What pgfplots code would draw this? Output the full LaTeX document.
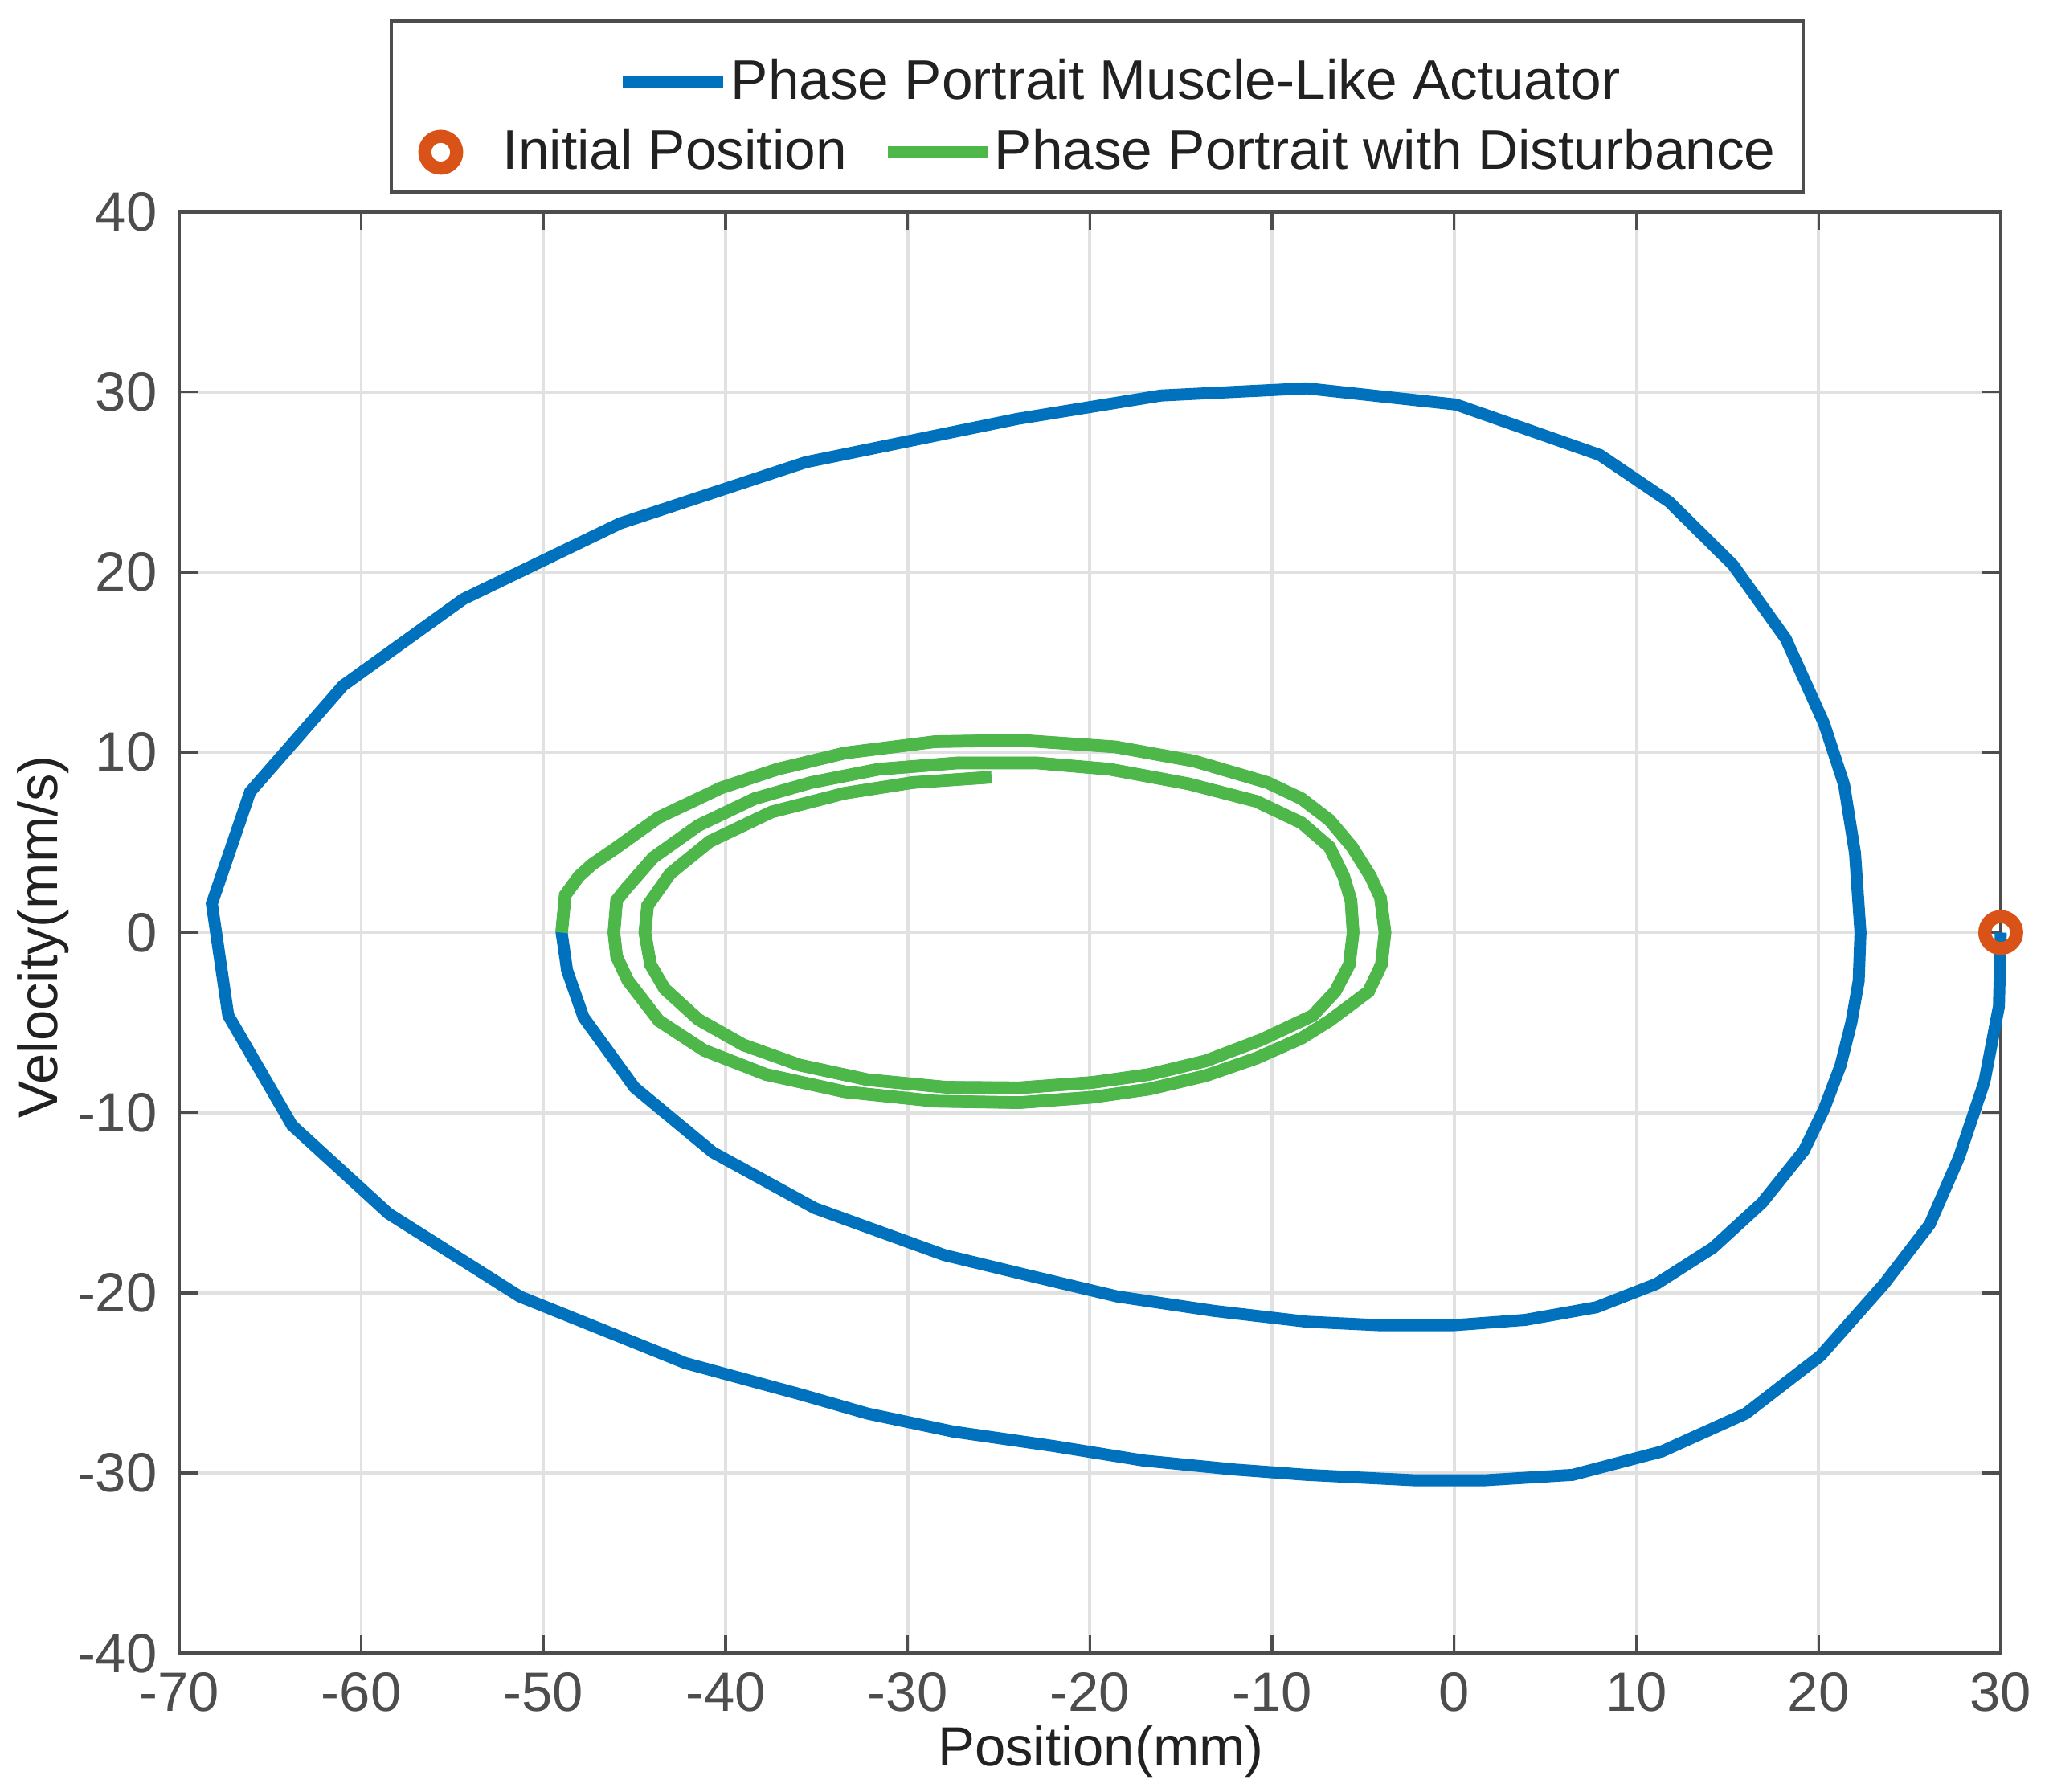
\documentclass[border=0pt]{standalone}
\usepackage{fontspec}
\setmainfont{Liberation Sans}
\usepackage{pgfplots}
\pgfplotsset{compat=1.18}
\definecolor{mblue}{RGB}{0,114,189}
\definecolor{morange}{RGB}{217,83,25}
\definecolor{mgreen}{RGB}{77,183,73}
\definecolor{axgray}{RGB}{77,77,77}
\definecolor{gridgray}{RGB}{225,225,225}
\definecolor{txt}{RGB}{33,33,33}
\begin{document}
\begin{tikzpicture}
\begin{axis}[
  scale only axis,
  width=418.2pt, height=330.9pt,
  xmin=-70, xmax=30, ymin=-40, ymax=40,
  xtick={-70,-60,...,30}, ytick={-40,-30,...,40},
  /pgf/number format/assume math mode=true,
  tick label style={font=\fontsize{12.7pt}{15pt}\selectfont, text=axgray},
  xticklabel style={yshift=-1pt},
  yticklabel style={xshift=-1.5pt},
  grid=major,
  grid style={line width=0.7pt, color=gridgray},
  axis line style={line width=0.75pt, color=axgray},
  every tick/.style={line width=0.6pt, color=axgray},
  major tick length=4.2pt,
  clip=false,
  xlabel={Position(mm)}, ylabel={Velocity(mm/s)},
  label style={font=\fontsize{12.7pt}{15pt}\selectfont, text=txt},
  xlabel style={at={(axis description cs:0.506,-0.068)}, anchor=center},
  ylabel style={at={(axis description cs:-0.0746,0.497)}, anchor=center, rotate=0},
  legend cell align=left,
  legend columns=2,
  legend style={at={(0.1155,1.0127)}, anchor=south west,
    draw=axgray, line width=0.75pt, fill=white,
    inner xsep=0pt, inner ysep=3.7pt,
    nodes={inner sep=0pt, text depth=0.15em, text=txt},
    font=\fontsize{12.8pt}{15pt}\selectfont,
    column sep=0pt, row sep=5.3pt},
]
% invisible frame to keep the reference proportions
\path (axis description cs:-0.0983,-0.0961) rectangle (axis description cs:1.0265,1.1469);

\addplot[mblue, line width=2.75pt,
  legend image code/.code={\path[draw=none,fill=none] (0pt,0pt) -- (25.65pt,0pt); \draw[overlay] (53.2pt,0pt) -- (76.3pt,0pt);}]
coordinates {
(30,0) (29.9,-4.1) (29.1,-8.3) (27.7,-12.5) (26.1,-16.2) (23.6,-19.5) (20.1,-23.5) (16.0,-26.7)
(11.4,-28.8) (6.5,-30.1) (1.7,-30.4) (-2.2,-30.4) (-8.1,-30.1) (-12.1,-29.8) (-17.1,-29.3)
(-22.0,-28.5) (-27.5,-27.7) (-32.2,-26.7) (-36.0,-25.6) (-42.2,-23.9) (-51.3,-20.2) (-58.5,-15.6)
(-63.8,-10.7) (-67.3,-4.6) (-68.2,1.6) (-66.1,7.8) (-61.0,13.7) (-54.4,18.5) (-45.8,22.7)
(-35.6,26.1) (-24.0,28.5) (-16.1,29.8) (-8.1,30.2) (0.1,29.3) (8.0,26.5) (11.8,23.9) (15.3,20.4)
(18.2,16.3) (20.3,11.6) (21.4,8.2) (22.0,4.4) (22.3,0) (22.2,-2.7) (21.8,-5.0) (21.2,-7.4)
(20.3,-9.8) (19.2,-12.1) (16.9,-15.0) (14.2,-17.5) (11.1,-19.5) (7.8,-20.8) (3.9,-21.5)
(-0.1,-21.8) (-4.0,-21.8) (-8.1,-21.6) (-13.2,-21.0) (-18.5,-20.2) (-23.5,-19.0) (-28.0,-17.9)
(-35.1,-15.3) (-40.7,-12.2) (-45.0,-8.6) (-47.8,-4.7) (-48.7,-2.1) (-49.0,0)
(-48.8,2.08) (-48.05,3.12) (-47.31,3.79) (-46.13,4.61) (-43.66,6.39) (-40.26,8.02) (-37.16,9.06)
(-33.45,9.96) (-28.5,10.59) (-23.86,10.67) (-18.6,10.3) (-14.27,9.51) (-10.25,8.32) (-8.39,7.43)
(-6.85,6.24) (-5.61,4.75) (-4.6,3.12) (-4.05,1.93) (-3.8,0) (-4.0,-1.78) (-4.7,-3.27)
(-6.85,-4.9) (-8.39,-5.87) (-10.87,-6.98) (-13.65,-7.95) (-16.74,-8.69) (-19.84,-9.14)
(-23.86,-9.44) (-28.5,-9.36) (-33.45,-8.84) (-37.78,-7.88) (-41.18,-6.54) (-43.66,-4.9)
(-45.36,-2.67) (-45.98,-1.34) (-46.13,0) (-45.98,1.78) (-45.51,2.38) (-43.97,4.16) (-41.49,5.94)
(-38.4,7.43) (-35.31,8.32) (-31.59,9.06) (-27.26,9.41) (-22.93,9.41) (-18.91,9.06) (-14.58,8.25)
(-10.87,7.28) (-8.39,6.09) (-6.85,4.75) (-6.07,3.12) (-5.67,1.78) (-5.55,0) (-5.76,-1.78)
(-6.53,-3.27) (-7.77,-4.61) (-10.56,-5.94) (-13.65,-7.13) (-16.74,-7.88) (-19.84,-8.32)
(-23.86,-8.62) (-27.88,-8.59) (-32.21,-8.17) (-35.92,-7.36) (-39.02,-6.24) (-41.49,-4.83)
(-43.35,-3.12) (-44.12,-1.78) (-44.43,0) (-44.28,1.49) (-43.04,3.27) (-40.87,5.05) (-37.47,6.69)
(-33.45,7.73) (-29.74,8.32) (-25.41,8.62)
};
\addlegendentry{\makebox[0pt][l]{\hspace*{51.9pt}Phase Portrait Muscle-Like Actuator}}

\addlegendimage{legend image code/.code={\path[draw=none,fill=none] (0pt,0pt) -- (0pt,10.4pt);}}
\addlegendentry{}

\addplot[only marks, mark=o, mark size=3.65pt, mark options={line width=3pt, draw=morange, fill=none},
  legend image code/.code={\path[draw=none,fill=none] (0pt,0pt) -- (25.65pt,0pt); \draw[mark=o] plot coordinates {(11.4pt,0pt)};}]
coordinates {(30,0)};
\addlegendentry{\makebox[79.2pt][l]{Initial Position}}

\addplot[mgreen, line width=2.9pt,
  legend image code/.code={\path[draw=none,fill=none] (0pt,0pt) -- (32.1pt,0pt); \draw (9.15pt,0pt) -- (32.25pt,0pt);}]
coordinates {
(-49.0,0) (-48.8,2.08) (-48.05,3.12) (-47.31,3.79) (-46.13,4.61) (-43.66,6.39) (-40.26,8.02)
(-37.16,9.06) (-33.45,9.96) (-28.5,10.59) (-23.86,10.67) (-18.6,10.3) (-14.27,9.51) (-10.25,8.32)
(-8.39,7.43) (-6.85,6.24) (-5.61,4.75) (-4.6,3.12) (-4.05,1.93) (-3.8,0) (-4.0,-1.78) (-4.7,-3.27)
(-6.85,-4.9) (-8.39,-5.87) (-10.87,-6.98) (-13.65,-7.95) (-16.74,-8.69) (-19.84,-9.14)
(-23.86,-9.44) (-28.5,-9.36) (-33.45,-8.84) (-37.78,-7.88) (-41.18,-6.54) (-43.66,-4.9)
(-45.36,-2.67) (-45.98,-1.34) (-46.13,0) (-45.98,1.78) (-45.51,2.38) (-43.97,4.16) (-41.49,5.94)
(-38.4,7.43) (-35.31,8.32) (-31.59,9.06) (-27.26,9.41) (-22.93,9.41) (-18.91,9.06) (-14.58,8.25)
(-10.87,7.28) (-8.39,6.09) (-6.85,4.75) (-6.07,3.12) (-5.67,1.78) (-5.55,0) (-5.76,-1.78)
(-6.53,-3.27) (-7.77,-4.61) (-10.56,-5.94) (-13.65,-7.13) (-16.74,-7.88) (-19.84,-8.32)
(-23.86,-8.62) (-27.88,-8.59) (-32.21,-8.17) (-35.92,-7.36) (-39.02,-6.24) (-41.49,-4.83)
(-43.35,-3.12) (-44.12,-1.78) (-44.43,0) (-44.28,1.49) (-43.04,3.27) (-40.87,5.05) (-37.47,6.69)
(-33.45,7.73) (-29.74,8.32) (-25.41,8.62)
};
\addlegendentry{\makebox[185.55pt][l]{Phase Portrait with Disturbance}}
\end{axis}
\end{tikzpicture}
\end{document}
